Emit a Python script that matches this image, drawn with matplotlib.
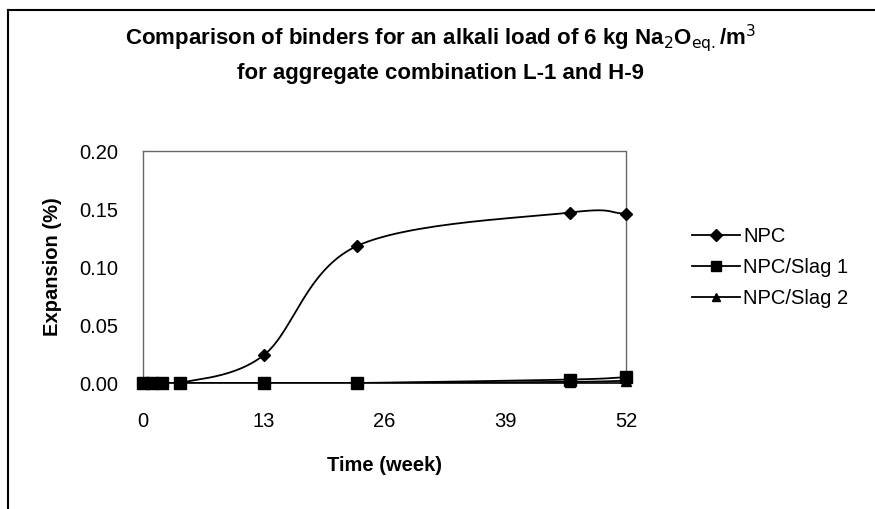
import numpy as np
import matplotlib.pyplot as plt
from matplotlib.lines import Line2D

plt.rcParams['font.family'] = ['Liberation Sans', 'DejaVu Sans']

weeks = [0, 1, 2, 4, 13, 23, 46, 52]
npc = [0.0, 0.0, 0.0, 0.0, 0.024, 0.118, 0.147, 0.146]
slag1 = [0.0, 0.0, 0.0, 0.0, 0.0, 0.0, 0.003, 0.005]
slag2 = [0.0, 0.0, 0.0, 0.0, 0.0, 0.0, 0.001, 0.002]
labels = ['NPC', 'NPC/Slag 1', 'NPC/Slag 2']


def smooth(x, y, n=30):
    # catmull-rom through the points, like excel's smoothed line
    x = np.asarray(x, float)
    y = np.asarray(y, float)
    px = np.concatenate([[2 * x[0] - x[1]], x, [2 * x[-1] - x[-2]]])
    py = np.concatenate([[2 * y[0] - y[1]], y, [2 * y[-1] - y[-2]]])
    ox, oy = [], []
    t = np.linspace(0, 1, n)
    for i in range(1, len(px) - 2):
        for p, out in ((px, ox), (py, oy)):
            p0, p1, p2, p3 = p[i - 1], p[i], p[i + 1], p[i + 2]
            out.extend(0.5 * ((2 * p1) + (-p0 + p2) * t
                              + (2 * p0 - 5 * p1 + 4 * p2 - p3) * t ** 2
                              + (-p0 + 3 * p1 - 3 * p2 + p3) * t ** 3))
    return np.array(ox), np.array(oy)


fig = plt.figure(figsize=(8.75, 5.09), dpi=100)
ax = fig.add_axes([0.1634, 0.2475, 0.552, 0.4558])

markers = ['D', 's', '^']
sizes = [6.5, 8.5, 7]
for ys, m, ms, lab in zip([npc, slag1, slag2], markers, sizes, labels):
    sx, sy = smooth(weeks, ys)
    ax.plot(sx, sy, color='black', lw=1.3, zorder=3)
    ax.plot(weeks, ys, linestyle='none', marker=m, ms=ms, color='black',
            clip_on=False, zorder=4)

ax.set_xlim(0, 52)
ax.set_ylim(0, 0.20)
ax.set_xticks([0, 13, 26, 39, 52])
ax.set_yticks([0, 0.05, 0.10, 0.15, 0.20])
ax.set_yticklabels(['0.00', '0.05', '0.10', '0.15', '0.20'])
ax.tick_params(length=0, labelsize=14.5)
ax.tick_params(axis='x', pad=21)
ax.tick_params(axis='y', pad=18)
for s in ['top', 'right', 'left']:
    ax.spines[s].set_linestyle((0, (2, 1)))
    ax.spines[s].set_color('#666666')
    ax.spines[s].set_linewidth(1.0)
ax.spines['bottom'].set_color('black')
ax.spines['bottom'].set_linewidth(1.2)

ax.set_xlabel('Time (week)', fontsize=14.5, fontweight='bold', labelpad=18)
ax.set_ylabel('Expansion (%)', fontsize=14.5, fontweight='bold', labelpad=12)

fig.text(0.503, 0.925, r'Comparison of binders for an alkali load of 6 kg Na$_2$O$_{\mathrm{eq.}}$/m$^3$',
         ha='center', va='center', fontsize=16, fontweight='bold')
fig.text(0.503, 0.855, 'for aggregate combination L-1 and H-9',
         ha='center', va='center', fontsize=16, fontweight='bold')

handles = [Line2D([], [], color='black', lw=1.3, marker=m, ms=ms * 0.9)
           for m, ms in zip(markers, sizes)]
fig.legend(handles, labels, loc='center left', bbox_to_anchor=(0.791, 0.474),
           frameon=False, fontsize=14.5, handlelength=2.4, handletextpad=0.15,
           labelspacing=0.6, borderpad=0, borderaxespad=0)

# outer chart frame (only left and top visible in the scan)
fig.add_artist(Line2D([0.009, 0.009], [0.0, 0.98], color='black', lw=1.5,
                      transform=fig.transFigure))
fig.add_artist(Line2D([0.009, 1.0], [0.98, 0.98], color='black', lw=1.5,
                      transform=fig.transFigure))

fig.savefig('out.png', dpi=100)
